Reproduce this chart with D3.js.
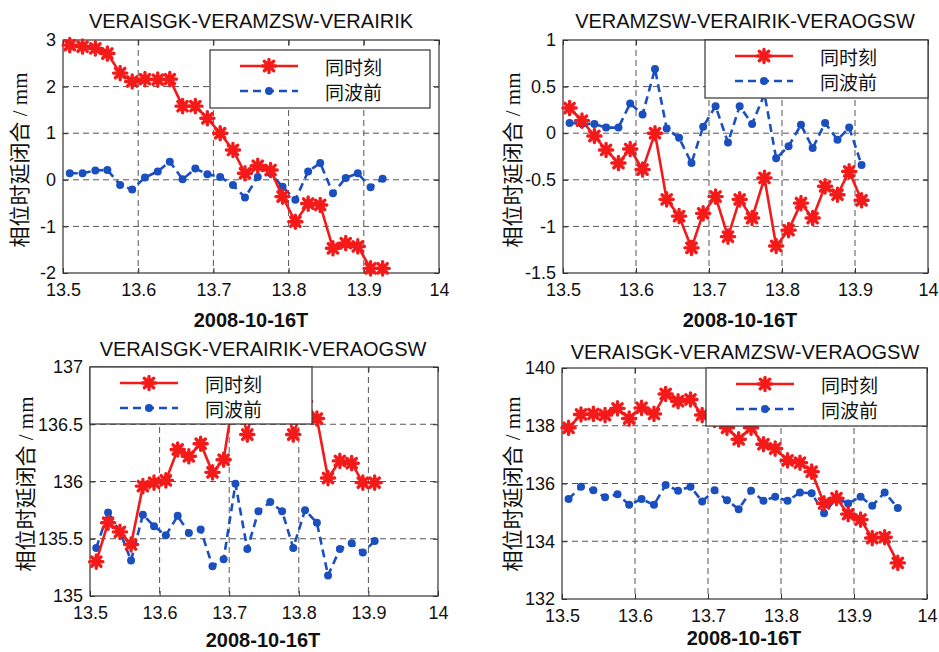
<!DOCTYPE html>
<html><head><meta charset="utf-8">
<script src="https://cdn.jsdelivr.net/npm/d3@7"></script>
<style>body{margin:0;background:#fff}</style>
</head><body><svg id="c" width="939" height="652"></svg>
<script>
// ---- data ----
const epochs = [13.509, 13.526, 13.543, 13.559, 13.576, 13.592, 13.609, 13.626, 13.642, 13.659,
  13.676, 13.692, 13.709, 13.726, 13.742, 13.759, 13.776, 13.792, 13.809, 13.826,
  13.842, 13.859, 13.876, 13.892, 13.909, 13.925, 13.942, 13.960];
const xTicks = [13.5, 13.6, 13.7, 13.8, 13.9, 14];
const titles = ["VERAISGK-VERAMZSW-VERAIRIK", "VERAMZSW-VERAIRIK-VERAOGSW",
  "VERAISGK-VERAIRIK-VERAOGSW", "VERAISGK-VERAMZSW-VERAOGSW"];
const legendLabels = ["同时刻", "同波前"];
const yLabel = "相位时延闭合 / mm";
const xLabel = "2008-10-16T";

const p1Same = [2.89, 2.86, 2.82, 2.71, 2.29, 2.11, 2.16, 2.15, 2.16, 1.58, 1.58, 1.32, 1.00, 0.64,
  0.14, 0.30, 0.21, -0.36, -0.90, -0.51, -0.54, -1.47, -1.36, -1.43, -1.90, -1.90];
const p1Wave = [0.14, 0.14, 0.20, 0.21, -0.11, -0.21, 0.05, 0.18, 0.39, 0.01, 0.24, 0.12, 0.06, -0.11,
  -0.38, 0.06, 0.14, -0.15, -0.43, 0.18, 0.36, -0.29, 0.04, 0.14, -0.16, 0.02];
const p1YTicks = [-2, -1, 0, 1, 2, 3];

const p2Same = [0.27, 0.135, -0.03, -0.18, -0.32, -0.17, -0.39, 0.00, -0.71, -0.89, -1.23, -0.86, -0.68,
  -1.11, -0.71, -0.91, -0.48, -1.21, -1.04, -0.75, -0.91, -0.57, -0.66, -0.41, -0.72];
const p2Wave = [0.11, 0.10, 0.10, 0.06, 0.06, 0.32, 0.20, 0.69, 0.05, -0.05, -0.32, 0.07, 0.29,
  -0.10, 0.29, 0.10, 0.42, -0.27, -0.14, 0.09, -0.16, 0.11, -0.07, 0.06, -0.34];
const p2YTicks = [-1.5, -1, -0.5, 0, 0.5, 1];

const p3Same = [135.30, 135.64, 135.56, 135.45, 135.96, 135.99, 136.01, 136.28, 136.22, 136.33, 136.08,
  136.19, 136.85, 136.41, 136.90, 136.75, 136.85, 136.41, 136.70, 136.55, 136.03, 136.18, 136.16, 135.99, 135.99];
const p3Wave = [135.42, 135.73, 135.56, 135.31, 135.71, 135.61, 135.53, 135.70, 135.55, 135.58, 135.26,
  135.32, 135.98, 135.41, 135.74, 135.82, 135.74, 135.42, 135.75, 135.64, 135.18, 135.41, 135.46, 135.38, 135.48];
const p3YTicks = [135, 135.5, 136, 136.5, 137];

const p4Same = [137.93, 138.39, 138.41, 138.37, 138.60, 138.25, 138.62, 138.41, 139.10, 138.85, 138.91,
  138.37, 138.20, 137.93, 137.53, 137.93, 137.36, 137.21, 136.80, 136.72, 136.41, 135.31, 135.49,
  134.94, 134.75, 134.11, 134.14, 133.25];
const p4Wave = [135.46, 135.89, 135.77, 135.52, 135.63, 135.26, 135.46, 135.26, 135.95, 135.75, 135.89,
  135.38, 135.77, 135.42, 135.11, 135.75, 135.40, 135.54, 135.40, 135.69, 135.66, 134.97, 135.49,
  135.31, 135.54, 135.23, 135.69, 135.15];
const p4YTicks = [132, 134, 136, 138, 140];

// ---- layout ----
const panels = [
  {title: titles[0], same: p1Same, wave: p1Wave, yTicks: p1YTicks,
   box: {x0: 63, x1: 439, y0: 40, y1: 273}, leg: {x: 210, y: 50, w: 220, h: 58},
   ylab: [20, 160], tpos: [251, 28], xlpos: [251, 327]},
  {title: titles[1], same: p2Same, wave: p2Wave, yTicks: p2YTicks,
   box: {x0: 563, x1: 928, y0: 40, y1: 273}, leg: {x: 705, y: 40, w: 223, h: 58},
   ylab: [513, 160], tpos: [745, 28], xlpos: [740, 327]},
  {title: titles[2], same: p3Same, wave: p3Wave, yTicks: p3YTicks,
   box: {x0: 90, x1: 438, y0: 367, y1: 596}, leg: {x: 90, y: 367, w: 222, h: 57},
   ylab: [26, 484], tpos: [263, 356], xlpos: [263, 647]},
  {title: titles[3], same: p4Same, wave: p4Wave, yTicks: p4YTicks,
   box: {x0: 562, x1: 927, y0: 368, y1: 599}, leg: {x: 706, y: 368, w: 221, h: 58},
   ylab: [513, 484], tpos: [745, 359], xlpos: [744, 645]}
];

const RED = "#f41a1a", BLUE = "#1a4fc0", GRID = "#555", FRAME = "#333";
const fmt = d => String(Math.round(d * 10) / 10);
const starType = {draw(ctx, size) {
  const r = Math.sqrt(size) / 2, q = r * Math.SQRT1_2;
  ctx.moveTo(-r, 0); ctx.lineTo(r, 0); ctx.moveTo(0, -r); ctx.lineTo(0, r);
  ctx.moveTo(-q, -q); ctx.lineTo(q, q); ctx.moveTo(-q, q); ctx.lineTo(q, -q);
}};
const star = d3.symbol().type(starType).size(175);
const svg = d3.select("#c");
svg.append("rect").attr("width", 939).attr("height", 652).attr("fill", "#fff");

panels.forEach(p => {
  const {x0, x1, y0, y1} = p.box;
  const ext = d3.extent(p.yTicks);
  const x = d3.scaleLinear().domain([13.5, 14]).range([x0, x1]);
  const y = d3.scaleLinear().domain(ext).range([y1, y0]);
  const g = svg.append("g");

  // grid
  g.selectAll(".gx").data(xTicks.slice(1, -1)).join("line")
    .attr("x1", d => x(d)).attr("x2", d => x(d)).attr("y1", y0).attr("y2", y1)
    .attr("stroke", GRID).attr("stroke-width", 1).attr("stroke-dasharray", "6,4");
  g.selectAll(".gy").data(p.yTicks.slice(1, -1)).join("line")
    .attr("y1", d => y(d)).attr("y2", d => y(d)).attr("x1", x0).attr("x2", x1)
    .attr("stroke", GRID).attr("stroke-width", 1).attr("stroke-dasharray", "6,4");

  // axes
  const styleAxis = sel => {
    sel.select(".domain").remove();
    sel.selectAll(".tick line").attr("stroke", FRAME);
    sel.selectAll("text").attr("font-family", "'Liberation Sans', Arial, sans-serif")
      .attr("font-size", 18).attr("fill", "#111");
  };
  g.append("g").attr("transform", `translate(0,${y1})`)
    .call(d3.axisBottom(x).tickValues(xTicks).tickFormat(fmt).tickSize(-5).tickPadding(10)).call(styleAxis);
  g.append("g").attr("transform", `translate(${x0},0)`)
    .call(d3.axisLeft(y).tickValues(p.yTicks).tickFormat(fmt).tickSize(-5).tickPadding(7)).call(styleAxis);
  g.append("g").attr("transform", `translate(0,${y0})`)
    .call(d3.axisTop(x).tickValues(xTicks).tickFormat("").tickSize(-5)).call(styleAxis);
  g.append("g").attr("transform", `translate(${x1},0)`)
    .call(d3.axisRight(y).tickValues(p.yTicks).tickFormat("").tickSize(-5)).call(styleAxis);

  // frame
  g.append("rect").attr("x", x0).attr("y", y0).attr("width", x1 - x0).attr("height", y1 - y0)
    .attr("fill", "none").attr("stroke", FRAME).attr("stroke-width", 1.2);

  const line = d3.line().x((d, i) => x(epochs[i])).y(d => y(d));
  // wave (blue dashed)
  g.append("path").datum(p.wave).attr("d", line).attr("fill", "none")
    .attr("stroke", BLUE).attr("stroke-width", 2.6).attr("stroke-dasharray", "8,5");
  g.selectAll(".bm").data(p.wave).join("circle")
    .attr("cx", (d, i) => x(epochs[i])).attr("cy", d => y(d)).attr("r", 4).attr("fill", BLUE);
  // same (red)
  g.append("path").datum(p.same).attr("d", line).attr("fill", "none")
    .attr("stroke", RED).attr("stroke-width", 2.6);
  g.selectAll(".rm").data(p.same).join("path")
    .attr("transform", (d, i) => `translate(${x(epochs[i])},${y(d)})`).attr("d", star)
    .attr("fill", "none").attr("stroke", RED).attr("stroke-width", 3.4).attr("stroke-linecap", "round");

  // legend
  const L = p.leg;
  const lg = g.append("g");
  lg.append("rect").attr("x", L.x).attr("y", L.y).attr("width", L.w).attr("height", L.h)
    .attr("fill", "#fff").attr("stroke", FRAME).attr("stroke-width", 1.2);
  const r1 = L.y + 16, r2 = L.y + 41;
  lg.append("line").attr("x1", L.x + 30).attr("x2", L.x + 88).attr("y1", r1).attr("y2", r1)
    .attr("stroke", RED).attr("stroke-width", 2.6);
  lg.append("path").attr("transform", `translate(${L.x + 59},${r1})`).attr("d", star)
    .attr("fill", "none").attr("stroke", RED).attr("stroke-width", 3.4).attr("stroke-linecap", "round");
  lg.append("line").attr("x1", L.x + 30).attr("x2", L.x + 88).attr("y1", r2).attr("y2", r2)
    .attr("stroke", BLUE).attr("stroke-width", 2.6).attr("stroke-dasharray", "8,5");
  lg.append("circle").attr("cx", L.x + 59).attr("cy", r2).attr("r", 4).attr("fill", BLUE);
  lg.selectAll("text").data(legendLabels).join("text")
    .attr("x", L.x + 115).attr("y", (d, i) => i ? r2 : r1).attr("dominant-baseline", "central")
    .attr("font-family", "'Noto Sans CJK SC', sans-serif").attr("font-size", 19).attr("fill", "#111")
    .text(d => d);

  // title
  g.append("text").attr("x", p.tpos[0]).attr("y", p.tpos[1]).attr("text-anchor", "middle")
    .attr("font-family", "'Liberation Sans', Arial, sans-serif").attr("font-size", 20).attr("fill", "#111")
    .text(p.title);
  // x label
  g.append("text").attr("x", p.xlpos[0]).attr("y", p.xlpos[1]).attr("text-anchor", "middle")
    .attr("font-family", "'Liberation Sans', Arial, sans-serif").attr("font-size", 20)
    .attr("font-weight", "bold").attr("fill", "#111").text(xLabel);
  // y label
  g.append("text").attr("transform", `translate(${p.ylab[0]},${p.ylab[1]}) rotate(-90)`)
    .attr("text-anchor", "middle").attr("dominant-baseline", "central")
    .attr("font-family", "'Liberation Serif', 'Noto Sans CJK SC', serif").attr("font-size", 21)
    .attr("fill", "#111").text(yLabel);
});
</script>
</body></html>
